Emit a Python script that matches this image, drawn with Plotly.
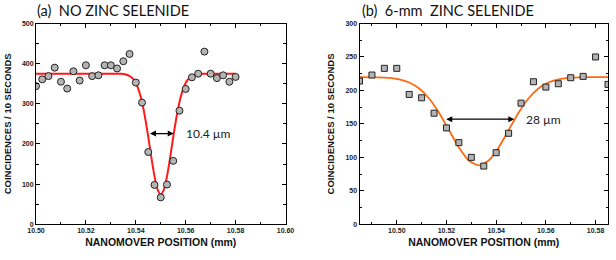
import plotly.graph_objects as go

# ---------------- data: panel (a) NO ZINC SELENIDE ----------------
a_pos = [10.5000, 10.5025, 10.5050, 10.5075, 10.5100, 10.5125, 10.5150, 10.5175,
         10.5200, 10.5225, 10.5250, 10.5275, 10.5300, 10.5325, 10.5350, 10.5375,
         10.5400, 10.5425, 10.5450, 10.5475, 10.5500, 10.5525, 10.5550, 10.5575,
         10.5600, 10.5625, 10.5650, 10.5675, 10.5700, 10.5725, 10.5750, 10.5775,
         10.5800]
a_counts = [344, 361, 369, 390, 355, 338, 381, 358,
            396, 369, 371, 396, 396, 388, 406, 424,
            353, 303, 180, 98, 67, 99, 158, 283,
            337, 366, 375, 430, 375, 364, 371, 355,
            367]
# fitted curve
a_fit_x = [10.500, 10.520, 10.530, 10.534, 10.536, 10.538, 10.539, 10.540, 10.541,
           10.542, 10.543, 10.544, 10.545, 10.546, 10.547, 10.548, 10.549,
           10.550, 10.551, 10.552, 10.553, 10.554, 10.555, 10.556, 10.557,
           10.558, 10.559, 10.560, 10.561, 10.562, 10.564, 10.566, 10.570, 10.580]
a_fit_y = [375, 375, 375, 374.6, 373, 367.5, 361.5, 351.9, 337.4,
           316.8, 289.5, 255.7, 217, 176, 136.8, 104.2, 82.6,
           75, 82.6, 104.2, 136.8, 176, 217, 255.7, 289.5,
           316.8, 337.4, 351.9, 361.5, 367.5, 373, 374.6, 375, 375]

# ---------------- data: panel (b) 6-mm ZINC SELENIDE ----------------
b_pos = [10.485, 10.490, 10.495, 10.500, 10.505, 10.510, 10.515, 10.520,
         10.525, 10.530, 10.535, 10.540, 10.545, 10.550, 10.555, 10.560,
         10.565, 10.570, 10.575, 10.580, 10.585]
b_counts = [214, 223, 233, 233, 194, 189, 166, 144,
            122, 100, 87, 107, 136, 181, 213, 205,
            210, 219, 221, 250, 209]
b_fit_x = [10.485, 10.493, 10.497, 10.501, 10.505, 10.509, 10.513, 10.517, 10.521,
           10.525, 10.529, 10.533, 10.537, 10.541, 10.545, 10.549, 10.553,
           10.557, 10.561, 10.565, 10.569, 10.573, 10.577, 10.585]
b_fit_y = [220, 219.5, 218.7, 216.5, 211.8, 202.8, 187.9, 166.6, 140.7,
           114.7, 95.3, 88, 95.3, 114.7, 140.7, 166.6, 187.9,
           202.8, 211.8, 216.5, 218.7, 219.5, 220, 220]

a_width_label = "10.4 µm"
b_width_label = "28 µm"
a_title = "(a)  NO ZINC SELENIDE"
b_title = "(b)  6-mm  ZINC SELENIDE"
x_title = "NANOMOVER POSITION (mm)"
y_title = "COINCIDENCES / 10 SECONDS"

# ---------------- figure ----------------
W, H = 616, 260
fig = go.Figure()

fig.add_trace(go.Scatter(x=a_fit_x, y=a_fit_y, mode="lines",
                         line=dict(color="#ff1a1a", width=2, shape="spline", smoothing=0.6),
                         xaxis="x", yaxis="y", showlegend=False, hoverinfo="skip"))
fig.add_trace(go.Scatter(x=a_pos, y=a_counts, mode="markers",
                         marker=dict(symbol="circle", size=7, color="#b4b4b4",
                                     line=dict(color="#222222", width=1)),
                         xaxis="x", yaxis="y", showlegend=False))
fig.add_trace(go.Scatter(x=b_fit_x, y=b_fit_y, mode="lines",
                         line=dict(color="#ff6a10", width=1.8, shape="spline", smoothing=0.6),
                         xaxis="x2", yaxis="y2", showlegend=False, hoverinfo="skip"))
fig.add_trace(go.Scatter(x=b_pos, y=b_counts, mode="markers",
                         marker=dict(symbol="square", size=6, color="#b4b4b4",
                                     line=dict(color="#222222", width=1)),
                         xaxis="x2", yaxis="y2", showlegend=False))

tickfont = dict(family="Arial, Liberation Sans, sans-serif", size=7, color="#222222",
                weight="bold")
xtitlefont = dict(family="Arial, Liberation Sans, sans-serif", size=10.5, color="#111111")
ytitlefont = dict(family="Arial, Liberation Sans, sans-serif", size=9.5, color="#111111")

ydom = [(H - 224.3) / H, (H - 23.5) / H]

def xaxis(dom, rng):
    return dict(domain=dom, range=rng, tick0=10.50, dtick=0.02, tickformat=".2f",
                ticks="inside", ticklen=4, tickcolor="black", tickwidth=1,
                minor=dict(dtick=0.01, tick0=10.50, ticks="inside", ticklen=2.5,
                           tickcolor="black"),
                showline=True, linecolor="black", linewidth=1, mirror="ticks",
                showgrid=False, zeroline=False, tickfont=tickfont,
                ticklabelstandoff=-1, automargin=False,
                title=dict(text="<b>" + x_title + "</b>", font=xtitlefont, standoff=5))

def yaxis(anchor, rng, dt, mdt, standoff):
    return dict(domain=ydom, range=rng, dtick=dt, tick0=0, anchor=anchor,
                ticks="inside", ticklen=4, tickcolor="black", tickwidth=1,
                minor=dict(dtick=mdt, tick0=0, ticks="inside", ticklen=2.5,
                           tickcolor="black"),
                showline=True, linecolor="black", linewidth=1, mirror="ticks",
                showgrid=False, zeroline=False, tickfont=tickfont, automargin=False,
                title=dict(text="<b>" + y_title + "</b>", font=ytitlefont, standoff=standoff))

fig.update_layout(
    width=W, height=H,
    margin=dict(l=0, r=0, t=0, b=0),
    paper_bgcolor="white", plot_bgcolor="white",
    xaxis=dict(xaxis([36 / W, 285.5 / W], [10.50, 10.60]), anchor="y"),
    yaxis=yaxis("x", [0, 500], 100, 50, 8),
    xaxis2=dict(xaxis([359.5 / W, 608 / W], [10.485, 10.585]), anchor="y2"),
    yaxis2=yaxis("x2", [0, 300], 50, 25, 9),
)

labelfont = dict(family="Lato, Open Sans, sans-serif", size=12, color="#222222")
titlef = dict(family="Lato, Open Sans, sans-serif", size=14.5, color="#111111")

fig.add_annotation(text=a_title, xref="paper", yref="paper", x=35 / W, y=(H - 11) / H,
                   xanchor="left", yanchor="middle", showarrow=False, font=titlef)
fig.add_annotation(text=b_title, xref="paper", yref="paper", x=360 / W, y=(H - 11) / H,
                   xanchor="left", yanchor="middle", showarrow=False, font=titlef)

# width arrows (double headed)
for xr, yr, x0, x1, yv in [("x", "y", 10.5451, 10.5552, 226),
                           ("x2", "y2", 10.5193, 10.5473, 157)]:
    fig.add_annotation(x=x1, y=yv, ax=x0, ay=yv, xref=xr, yref=yr, axref=xr, ayref=yr,
                       text="", showarrow=True, arrowhead=2, startarrowhead=2,
                       arrowside="end+start", arrowsize=1, arrowwidth=1.2,
                       arrowcolor="black")

fig.add_annotation(text=a_width_label, xref="x", yref="y", x=10.5595, y=226,
                   xanchor="left", yanchor="middle", showarrow=False, font=labelfont)
fig.add_annotation(text=b_width_label, xref="x2", yref="y2", x=10.5512, y=157,
                   xanchor="left", yanchor="middle", showarrow=False, font=labelfont)

fig.write_html("out.html", config={"displayModeBar": False},
               post_script="document.body.style.margin='0';document.body.style.padding='0';")
